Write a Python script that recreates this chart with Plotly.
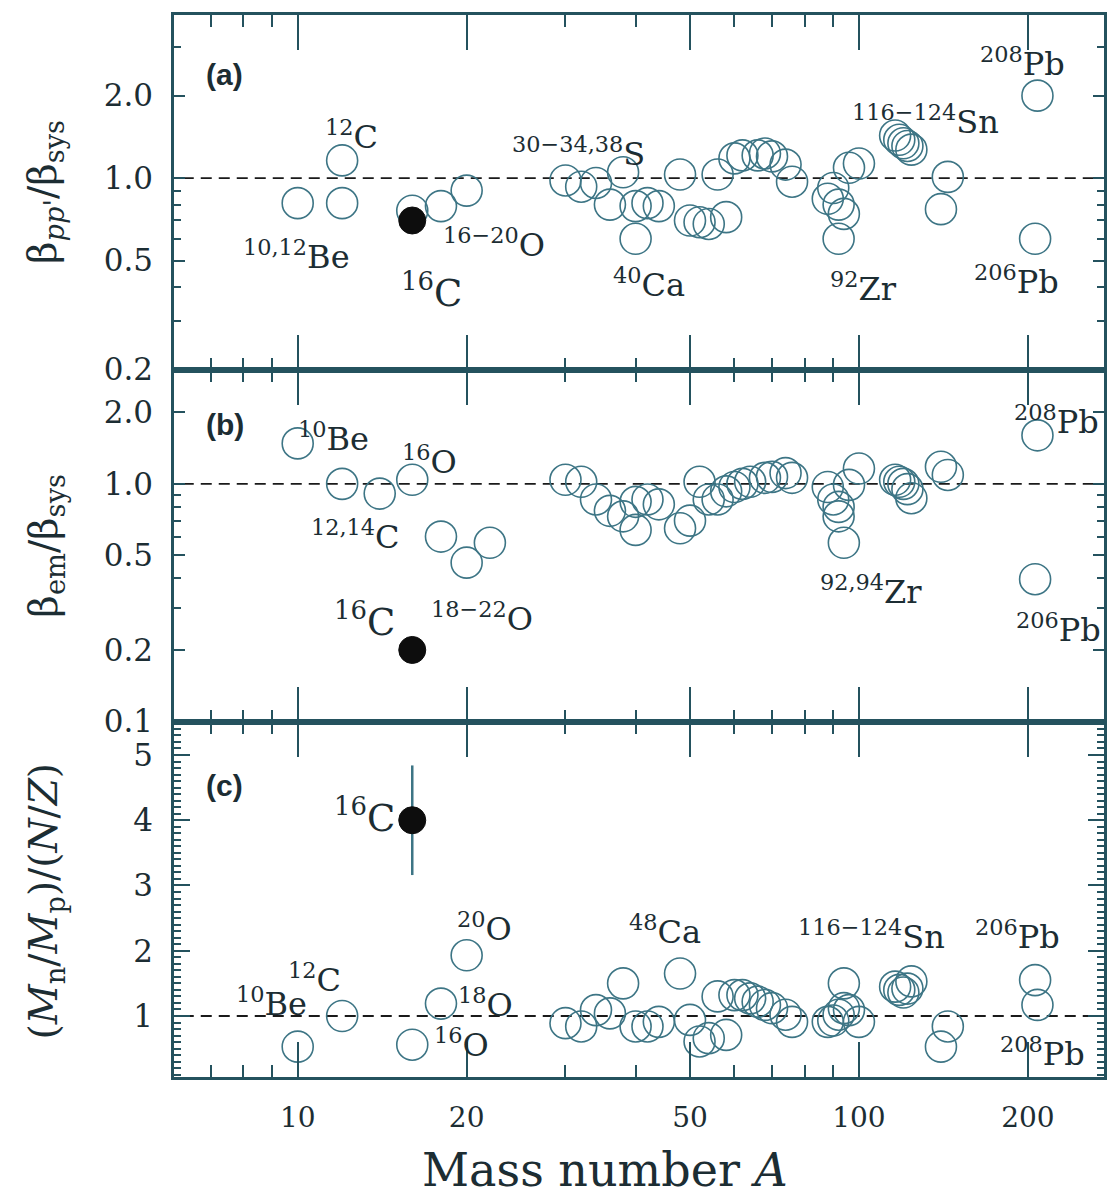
import numpy as np
import plotly.graph_objects as go

# ---------------- data ----------------
# Panel (a): beta_pp' / beta_sys
a_A = [10, 12, 12, 16, 18, 20, 30, 32, 34, 36, 38, 40, 40, 42, 44, 48, 50, 52, 54, 56, 58,
       60, 62, 66, 68, 70, 74, 76, 88, 90, 92, 94, 92, 96, 100, 116, 118, 120, 122, 124,
       140, 144, 206, 208]
a_val = [0.81, 0.81, 1.16, 0.76, 0.79, 0.90, 0.98, 0.93, 0.96, 0.80, 1.05, 0.79, 0.60, 0.81,
         0.79, 1.03, 0.70, 0.69, 0.68, 1.03, 0.72, 1.18, 1.21, 1.21, 1.23, 1.20, 1.12, 0.97,
         0.84, 0.92, 0.80, 0.74, 0.60, 1.09, 1.13, 1.43, 1.38, 1.34, 1.31, 1.27, 0.77, 1.01,
         0.60, 2.00]
a_16C_A = [16]
a_16C_val = [0.70]

# Panel (b): beta_em / beta_sys
b_A = [10, 12, 14, 16, 18, 20, 22, 30, 32, 34, 36, 38, 40, 40, 42, 44, 48, 50, 52, 54, 56,
       58, 60, 62, 64, 68, 70, 74, 76, 88, 90, 92, 92, 94, 96, 100, 116, 118, 120, 122, 124,
       140, 144, 206, 208]
b_val = [1.48, 1.00, 0.91, 1.04, 0.60, 0.466, 0.565, 1.04, 1.02, 0.86, 0.77, 0.73, 0.84, 0.64,
         0.86, 0.82, 0.65, 0.70, 1.02, 0.86, 0.86, 0.93, 0.97, 1.00, 1.02, 1.06, 1.07, 1.11,
         1.06, 0.97, 0.86, 0.80, 0.73, 0.565, 0.99, 1.16, 1.04, 1.02, 1.00, 0.95, 0.87, 1.18,
         1.09, 0.397, 1.60]
b_16C_A = [16]
b_16C_val = [0.20]

# Panel (c): (Mn/Mp)/(N/Z)
c_A = [10, 12, 16, 18, 20, 30, 32, 34, 36, 38, 40, 42, 44, 48, 50, 52, 54, 58, 56, 60, 62,
       64, 66, 68, 70, 74, 76, 88, 90, 92, 94, 94, 96, 100, 116, 118, 120, 122, 124, 140, 144,
       206, 208]
c_val = [0.53, 1.00, 0.56, 1.19, 1.93, 0.89, 0.84, 1.09, 1.04, 1.50, 0.84, 0.84, 0.91, 1.65,
         0.94, 0.61, 0.66, 0.71, 1.30, 1.32, 1.32, 1.27, 1.22, 1.17, 1.12, 1.02, 0.91, 0.91,
         0.93, 1.02, 1.12, 1.50, 1.09, 0.91, 1.45, 1.40, 1.36, 1.42, 1.53, 0.53, 0.84, 1.55,
         1.17]
c_16C_A = [16]
c_16C_val = [4.0]
c_16C_err = [0.84]

# tick values / labels
x_major = [10, 20, 50, 100, 200]
x_minor = [7, 8, 9, 30, 40, 60, 70, 80, 90]
ylog_major = [0.2, 0.5, 1, 2]
ylog_major_txt = ["0.2", "0.5", "1.0", "2.0"]
ya_minor = [0.3, 0.4, 0.6, 0.7, 0.8, 0.9, 3]
yb_major = [0.1, 0.2, 0.5, 1, 2]
yb_major_txt = ["0.1", "0.2", "0.5", "1.0", "2.0"]
yb_minor = [0.3, 0.4, 0.6, 0.7, 0.8, 0.9, 3]
yc_major = [1, 2, 3, 4, 5]

# text labels: (text, A, value, panel, big)
labels = [
    ("<sup>12</sup>C", 12.46, 1.44, "a", False),
    ("<sup>10,12</sup>Be", 9.95, 0.525, "a", False),
    ("<sup>16</sup>C", 17.3, 0.39, "a", True),
    ("<sup>16−20</sup>O", 22.4, 0.58, "a", False),
    ("<sup>30−34,38</sup>S", 31.7, 1.25, "a", False),
    ("<sup>40</sup>Ca", 42.3, 0.415, "a", False),
    ("<sup>92</sup>Zr", 102, 0.40, "a", False),
    ("<sup>116−124</sup>Sn", 131.4, 1.63, "a", False),
    ("<sup>208</sup>Pb", 196, 2.65, "a", False),
    ("<sup>206</sup>Pb", 191, 0.426, "a", False),
    ("<sup>10</sup>Be", 11.6, 1.58, "b", False),
    ("<sup>16</sup>O", 17.15, 1.26, "b", False),
    ("<sup>12,14</sup>C", 12.7, 0.61, "b", False),
    ("<sup>16</sup>C", 13.15, 0.268, "b", True),
    ("<sup>18−22</sup>O", 21.3, 0.276, "b", False),
    ("<sup>92,94</sup>Zr", 105, 0.358, "b", False),
    ("<sup>208</sup>Pb", 225, 1.86, "b", False),
    ("<sup>206</sup>Pb", 227, 0.248, "b", False),
    ("<sup>16</sup>C", 13.15, 4.08, "c", True),
    ("<sup>20</sup>O", 21.5, 2.36, "c", False),
    ("<sup>12</sup>C", 10.7, 1.58, "c", False),
    ("<sup>10</sup>Be", 8.99, 1.215, "c", False),
    ("<sup>18</sup>O", 21.65, 1.20, "c", False),
    ("<sup>16</sup>O", 19.55, 0.59, "c", False),
    ("<sup>48</sup>Ca", 45.2, 2.32, "c", False),
    ("<sup>116−124</sup>Sn", 105.4, 2.24, "c", False),
    ("<sup>206</sup>Pb", 191.4, 2.24, "c", False),
    ("<sup>208</sup>Pb", 212, 0.45, "c", False),
]

# ---------------- style ----------------
AX = "#24525e"
TXT = "#1c2d33"
MK = "#3d7585"
SERIF = "DejaVu Serif"
MSIZE = 31

fig = go.Figure()

panels = [("x", "y", a_A, a_val, a_16C_A, a_16C_val, None),
          ("x2", "y2", b_A, b_val, b_16C_A, b_16C_val, None),
          ("x3", "y3", c_A, c_val, c_16C_A, c_16C_val, c_16C_err)]

for xr, yr, xs, ys, fx, fy, ferr in panels:
    fig.add_trace(go.Scatter(x=[5, 300], y=[1, 1], mode="lines", xaxis=xr, yaxis=yr,
                             line=dict(color="#1a1a1a", width=1.8, dash="11px,7px"),
                             hoverinfo="skip", showlegend=False))
    fig.add_trace(go.Scatter(x=xs, y=ys, mode="markers", xaxis=xr, yaxis=yr,
                             marker=dict(symbol="circle", size=MSIZE, color="rgba(0,0,0,0)",
                                         line=dict(color=MK, width=1.6)),
                             showlegend=False))
    err = None
    if ferr is not None:
        err = dict(type="data", array=ferr, color=MK, thickness=2.5, width=0)
    fig.add_trace(go.Scatter(x=fx, y=fy, mode="markers", xaxis=xr, yaxis=yr, error_y=err,
                             marker=dict(symbol="circle", size=27, color="#0d0d0d",
                                         line=dict(color="#0d0d0d", width=1)),
                             showlegend=False))

xrng = [np.log10(6.02), np.log10(273.3)]


def xaxis(anchor, show_labels):
    return dict(type="log", range=xrng, domain=[0, 1], anchor=anchor,
                showline=True, linecolor=AX, linewidth=2.5, mirror="ticks",
                ticks="inside", tickvals=x_major, ticktext=[str(v) for v in x_major],
                ticklen=35, tickwidth=2, tickcolor=AX,
                minor=dict(tickmode="array", tickvals=x_minor, ticks="inside", ticklen=12,
                           tickwidth=2, tickcolor=AX, showgrid=False),
                showticklabels=show_labels, ticklabelstandoff=14,
                tickfont=dict(family=SERIF, size=28, color=TXT),
                showgrid=False, zeroline=False)


def yaxis(anchor, domain, typ, rng, tv, tt, minor_vals, minor_len, major_len):
    return dict(type=typ, range=rng, domain=domain, anchor=anchor,
                showline=True, linecolor=AX, linewidth=2.5, mirror="ticks",
                ticks="inside", tickvals=tv, ticktext=tt, ticklen=major_len, tickwidth=2,
                tickcolor=AX,
                minor=dict(tickmode="array", tickvals=minor_vals, ticks="inside",
                           ticklen=minor_len, tickwidth=2, tickcolor=AX, showgrid=False),
                ticklabelstandoff=12,
                tickfont=dict(family=SERIF, size=31, color=TXT),
                showgrid=False, zeroline=False)


yc_minor = [round(v, 1) for v in np.arange(0.1, 5.51, 0.1) if abs(v - round(v)) > 1e-6]

fig.update_layout(
    width=1111, height=1203,
    margin=dict(l=174, r=4, t=15, b=126),
    paper_bgcolor="white", plot_bgcolor="white",
    xaxis=xaxis("y", False),
    xaxis2=xaxis("y2", False),
    xaxis3=xaxis("y3", True),
    yaxis=yaxis("x", [0.6657, 1], "log", [np.log10(0.2) - 0.002, np.log10(3.94)],
                ylog_major, ylog_major_txt, ya_minor, 7, 11),
    yaxis2=yaxis("x2", [0.3343, 0.6657], "log", [-1.002, 0.479],
                 yb_major, yb_major_txt, yb_minor, 7, 11),
    yaxis3=yaxis("x3", [0, 0.3343], "linear", [0.065, 5.506],
                 yc_major, [str(v) for v in yc_major], yc_minor, 7, 16),
)

ann = []
refs = {"a": ("x", "y", True), "b": ("x2", "y2", True), "c": ("x3", "y3", False)}
for text, A, v, p, big in labels:
    xr, yr, ylog = refs[p]
    ann.append(dict(text=text, x=np.log10(A), y=(np.log10(v) if ylog else v),
                    xref=xr, yref=yr, showarrow=False, xanchor="center", yanchor="middle",
                    font=dict(family=SERIF, size=37 if big else 32, color=TXT)))

# panel letters
for txt, p, A, v in [("(a)", "a", 7.42, 2.38), ("(b)", "b", 7.42, 1.77), ("(c)", "c", 7.42, 4.54)]:
    xr, yr, ylog = refs[p]
    ann.append(dict(text="<b>" + txt + "</b>", x=np.log10(A), y=(np.log10(v) if ylog else v),
                    xref=xr, yref=yr, showarrow=False, xanchor="center", yanchor="middle",
                    font=dict(family="Liberation Sans", size=30, color=TXT)))

# y-axis titles
ytitles = [("β<sub><i>pp'</i></sub>/β<sub>sys</sub>", 0.833),
           ("β<sub>em</sub>/β<sub>sys</sub>", 0.50),
           ("(<i>M</i><sub>n</sub>/<i>M</i><sub>p</sub>)/(<i>N</i>/<i>Z</i>)", 0.165)]
for txt, yp in ytitles:
    ann.append(dict(text=txt, x=-0.138, y=yp, xref="paper", yref="paper", showarrow=False,
                    textangle=-90, xanchor="center", yanchor="middle",
                    font=dict(family=SERIF, size=39, color=TXT)))

ann.append(dict(text="Mass number <i>A</i>", x=0.463, y=-0.088, xref="paper", yref="paper",
                showarrow=False, xanchor="center", yanchor="middle",
                font=dict(family=SERIF, size=46, color=TXT)))

fig.update_layout(annotations=ann)
fig.write_html("out.html")
